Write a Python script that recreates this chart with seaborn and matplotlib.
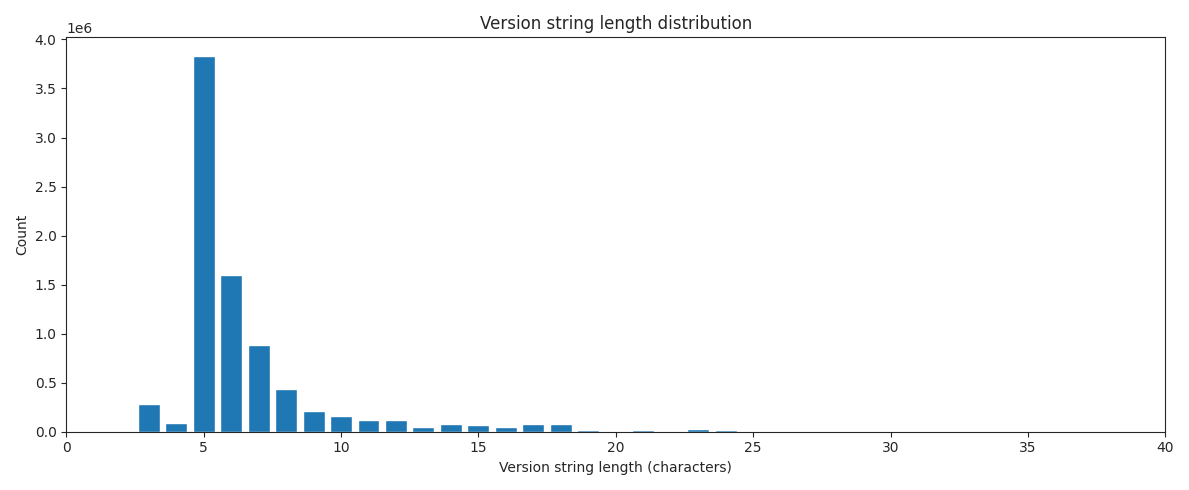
import matplotlib
matplotlib.use("Agg")
from matplotlib import pyplot as plt
import seaborn as sns

# version string lengths and their counts
lengths = [1, 2, 3, 4, 5, 6, 7, 8, 9, 10, 11, 12, 13, 14, 15, 16, 17, 18, 19, 20, 21, 22, 23, 24, 27]
counts = [10000, 10000, 280000, 90000, 3830000, 1600000, 880000, 440000, 210000, 160000,
          120000, 120000, 50000, 80000, 70000, 50000, 80000, 80000, 20000, 10000,
          20000, 10000, 30000, 20000, 10000]

sns.set_style("ticks")
plt.rcParams["font.family"] = ["DejaVu Sans"]

fig, ax = plt.subplots(figsize=(11.89, 4.9), dpi=100)
ax.bar(lengths, counts, width=0.8, color=sns.color_palette()[0])
ax.set_xlim(0, 40)
ax.set_title("Version string length distribution")
ax.set_xlabel("Version string length (characters)")
ax.set_ylabel("Count")
sns.despine(top=False, right=False)
fig.tight_layout()
fig.savefig("out.png")
